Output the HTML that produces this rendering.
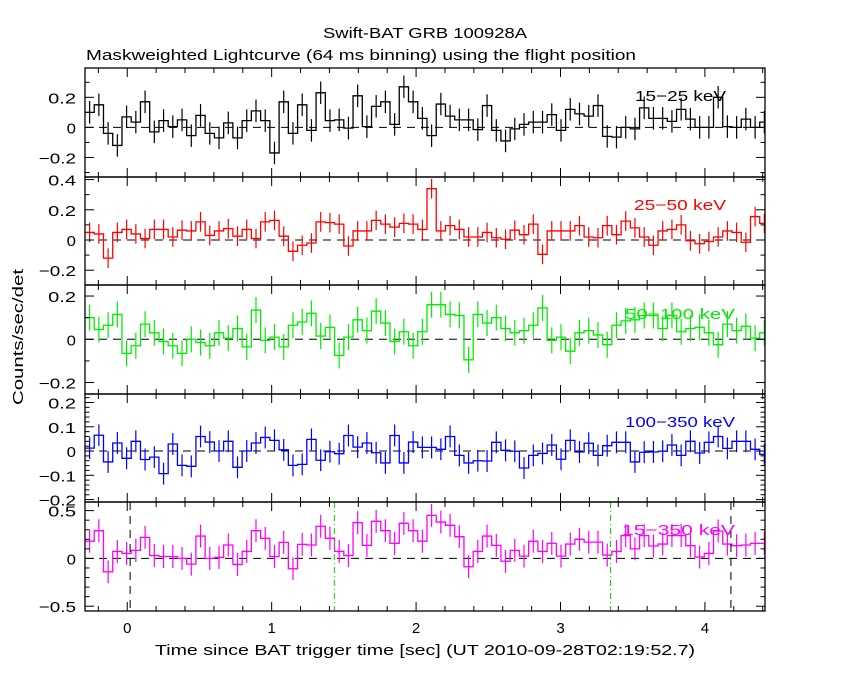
<!DOCTYPE html>
<html><head><meta charset="utf-8"><style>
html,body{margin:0;padding:0;background:#fff;}
svg{display:block;font-family:"Liberation Sans","DejaVu Sans",sans-serif;}
</style></head><body>
<svg id="chart" width="850" height="680" viewBox="0 0 850 680" xmlns="http://www.w3.org/2000/svg">
<rect width="850" height="680" fill="#fff"/>
<text x="323" y="38" font-size="15" textLength="204" lengthAdjust="spacingAndGlyphs">Swift-BAT GRB 100928A</text>
<text x="86" y="60" font-size="15" textLength="550" lengthAdjust="spacingAndGlyphs">Maskweighted Lightcurve (64 ms binning) using the flight position</text>
<text transform="translate(23,405) rotate(-90)" font-size="15" textLength="136" lengthAdjust="spacingAndGlyphs">Counts/sec/det</text>
<text x="155" y="655" font-size="15" textLength="540" lengthAdjust="spacingAndGlyphs">Time since BAT trigger time [sec] (UT 2010-09-28T02:19:52.7)</text>
<g id="plots"></g>
</svg>
<script>
const binStart = -0.2925;
const binWidth = 0.064;
const xTickLabels = [0, 1, 2, 3, 4];
const bandLabels = ["15\u221225 keV", "25\u221250 keV", "50\u2212100 keV", "100\u2212350 keV", "15\u2212350 keV"];
const rates1525 = [0.10,0.15,-0.04,-0.12,0.07,0.035,0.17,-0.03,0.045,0.005,0.05,-0.055,0.08,-0.04,-0.07,0.03,-0.07,0.045,0.11,0.045,-0.17,0.17,-0.04,0.15,-0.02,0.23,0.045,0.05,-0.005,0.21,0.005,0.14,0.17,0.02,0.27,0.17,
 0.06,-0.055,0.155,0.075,0.05,0.05,-0.015,0.145,-0.02,-0.09,-0.01,0.02,0.035,0.035,0.085,-0.02,0.12,0.09,0.075,0.145,-0.06,-0.065,0,-0.01,0.13,0.06,0.06,0.04,0.12,0.055,0,0,0.2,0.005,0,0.055,0,0.035];
const rates2550 = [0.05,0.04,-0.12,0.05,0.07,0.04,0.01,0.07,0.07,0.02,0.065,0.06,0.12,0.03,0.06,0.075,0.025,0.07,0.01,0.12,0.13,0.025,-0.075,-0.035,-0.02,0.12,0.115,0.105,-0.04,0.06,0.06,0.13,0.105,0.085,0.11,0.105,
 0.07,0.34,0.06,0.095,0.07,0.02,0.02,0.05,0.015,0.005,0.065,0.035,0.105,-0.095,0.06,0.06,0.06,0.095,0.02,0.015,0.095,0.035,0.125,0.08,0.02,-0.035,0.06,0.07,0.1,-0.005,-0.025,-0.01,0.02,0.06,0.05,-0.015,0.155,0.11];
const rates50100 = [0.10,0.045,0.065,0.115,-0.065,-0.03,0.07,0.03,-0.01,-0.03,-0.065,0,-0.015,-0.03,0.03,0.005,0.05,-0.035,0.135,-0.005,0.01,-0.035,0.065,0.08,0.12,0.015,0.055,-0.075,0.01,0.09,0.04,0.13,0.075,-0.01,0.035,-0.03,
 0.035,0.16,0.16,0.115,0.11,-0.095,0.115,0.075,0.10,0.05,0.03,0.04,0.065,0.145,-0.005,0.01,-0.055,0.03,0.04,0.02,-0.025,0.065,0.085,0.09,0.11,0.11,0.05,0.11,0.035,0.05,0.055,0.03,-0.025,0.07,0.04,0.06,0.005,0.03];
const rates100350 = [0.012,0.065,-0.045,0.033,-0.03,0.04,-0.035,-0.025,-0.093,0.029,-0.059,-0.063,0.06,0.037,0,0.04,-0.067,0,0.033,0.056,0.044,0.005,-0.059,-0.055,0.048,-0.038,-0.003,-0.011,0.064,0.016,0.033,-0.007,-0.049,0.064,-0.049,0.037,
 0.015,0.015,0.007,0.06,-0.018,-0.049,-0.04,-0.041,0.036,0.003,-0.001,-0.07,-0.018,-0.01,0.025,-0.034,0.044,-0.004,0.032,-0.018,0.022,0.036,0.036,-0.045,-0.005,-0.004,-0.001,0.025,-0.018,0.04,-0.008,0.036,0.06,0.011,0.04,0.04,0.007,-0.014];
const rates15350 = [0.18,0.29,-0.14,0.073,0.052,0.084,0.22,0.03,0.02,0.02,0,-0.06,0.234,0,0.01,0.14,-0.063,0.073,0.29,0.21,0.02,0.168,-0.108,0.147,0.14,0.336,0.21,0.073,0.03,0.374,0.136,0.388,0.29,0.157,0.367,0.29,
 0.18,0.45,0.38,0.346,0.227,-0.087,0.073,0.234,0.136,-0.03,0.084,0.024,0.18,0.073,0.157,0.024,0.15,0.2,0.17,0.17,0.035,0.073,0.238,0.1,0.238,0.13,0.15,0.238,0.238,0.133,0.014,0.052,0.287,0.15,0.133,0.14,0.157,0.157];
const errors = [0.075, 0.065, 0.06, 0.045, 0.12];
const markerTimes = [0.02, 4.18];
const intervalTimes = [1.434, 3.346];

const X0 = 85, X1 = 765;
const tMin = -0.2925, tMax = 4.416;
function xs(t){ return X0 + (t - tMin) / (tMax - tMin) * (X1 - X0); }

const panels = [
 {name:"15-25", top:68, bot:177, min:-0.33, max:0.395, color:"#000", data:rates1525, err:errors[0], labels:[-0.2,0,0.2], minor:0.1, lx:635, ly:101, lw:91},
 {name:"25-50", top:177, bot:285, min:-0.298, max:0.417, color:"#ff0000", data:rates2550, err:errors[1], labels:[-0.2,0,0.2,0.4], minor:0.1, lx:634, ly:210, lw:92},
 {name:"50-100", top:285, bot:394, min:-0.253, max:0.251, color:"#00ee00", data:rates50100, err:errors[2], labels:[-0.2,0,0.2], minor:0.1, lx:625, ly:319, lw:110},
 {name:"100-350", top:394, bot:502, min:-0.21, max:0.235, color:"#0000ff", data:rates100350, err:errors[3], labels:[-0.2,-0.1,0,0.1,0.2], minor:0.02, lx:625, ly:427, lw:110},
 {name:"15-350", top:502, bot:611, min:-0.55, max:0.59, color:"#ff00ff", data:rates15350, err:errors[4], labels:[-0.5,0,0.5], minor:0.1, lx:622, ly:535, lw:113}
];
const NS = "http://www.w3.org/2000/svg";
const root = document.getElementById("plots");
function mk(tag, attrs, parent){ const e=document.createElementNS(NS,tag); for(const k in attrs) e.setAttribute(k, attrs[k]); (parent||root).appendChild(e); return e; }
const defs = mk("defs",{});
const cp = mk("clipPath",{id:"clipx"},defs);
mk("rect",{x:X0,y:0,width:X1-X0,height:680},cp);

panels.forEach((p,pi)=>{
 const ys = v => p.bot - (v - p.min)/(p.max - p.min)*(p.bot - p.top);
 const g = mk("g",{});
 
 
 const z = mk("line",{x1:X0,x2:X1,y1:ys(0),y2:ys(0),stroke:"#000","stroke-width":1,"stroke-dasharray":"8,6"},g);
 
 
 const sg = mk("g",{"clip-path":"url(#clipx)"},g);
 
 
 let d = "";
 p.data.forEach((v,i)=>{
  const t0 = binStart + i*binWidth, t1 = t0 + binWidth;
  const y = ys(v);
  d += (i===0 ? "M"+xs(t0)+","+y : "V"+y) + "H"+xs(t1);
  const xc = xs(t0 + binWidth/2);
  const eb = mk("line",{x1:xc,x2:xc,y1:ys(v+p.err),y2:ys(v-p.err),stroke:p.color,"stroke-width":1.2},sg);
  
  
 });
 const path = mk("path",{d:d,fill:"none",stroke:p.color,"stroke-width":1.3},sg);
 
 
 if(pi===4){
  markerTimes.forEach(t=>{
   const l = mk("line",{x1:xs(t),x2:xs(t),y1:p.top,y2:p.bot,stroke:"#000","stroke-width":1,"stroke-dasharray":"8,6"},g);
   
   
  });
  intervalTimes.forEach(t=>{
   const l = mk("line",{x1:xs(t),x2:xs(t),y1:p.top,y2:p.bot,stroke:"#00dd00","stroke-width":1,"stroke-dasharray":"6,3,1,3"},g);
   
   
  });
 }
 const fr = mk("rect",{x:X0,y:p.top,width:X1-X0,height:p.bot-p.top,fill:"none",stroke:"#000","stroke-width":1.3},g);
 
 
 const eps=1e-9;
 for(let v=Math.ceil(p.min/p.minor)*p.minor; v<=p.max+eps; v+=p.minor){
  const isMaj = p.labels.some(l=>Math.abs(l-v)<1e-6);
  const len = isMaj?9:4.5;
  const y = ys(v);
  mk("line",{x1:X0,x2:X0+len,y1:y,y2:y,stroke:"#000","stroke-width":1},g);
  mk("line",{x1:X1,x2:X1-len,y1:y,y2:y,stroke:"#000","stroke-width":1},g);
 }
 p.labels.forEach(v=>{
  const s = (v<0?"\u2212":"") + String(Math.abs(v));
  const tx = mk("text",{x:76,y:ys(v)+6,"text-anchor":"end","font-size":15,textLength:s.length*9.3,lengthAdjust:"spacingAndGlyphs"},g);
  
  
  tx.textContent = s;
 });
 for(let k=-1;k<=22;k++){
  const t = k*0.2;
  if(t<tMin||t>tMax) continue;
  const isMaj = k%5===0;
  const len = isMaj?9:5;
  const x = xs(t);
  mk("line",{x1:x,x2:x,y1:p.bot,y2:p.bot-len,stroke:"#000","stroke-width":1},g);
  mk("line",{x1:x,x2:x,y1:p.top,y2:p.top+len,stroke:"#000","stroke-width":1},g);
 }
 const lb = mk("text",{x:p.lx,y:p.ly,"font-size":15,fill:p.color,textLength:p.lw,lengthAdjust:"spacingAndGlyphs"},g);
 
 
 lb.textContent = bandLabels[pi];
});
xTickLabels.forEach(v=>{
 const tx = mk("text",{x:xs(v),y:633,"text-anchor":"middle","font-size":15});
 
 
 tx.textContent = String(v);
});
</script>
</body></html>
